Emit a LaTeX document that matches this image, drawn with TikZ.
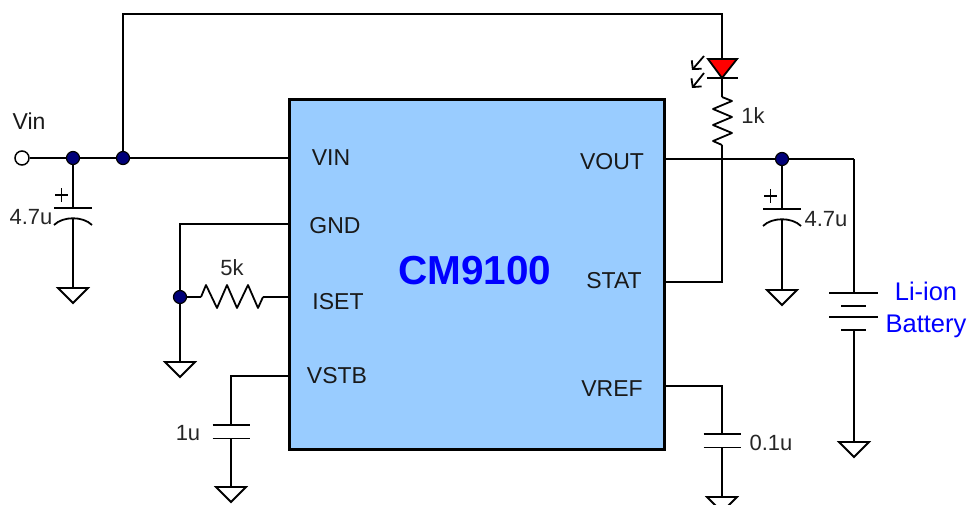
\documentclass[tikz,border=0pt]{standalone}
\usepackage{fontspec}
\setmainfont{Liberation Sans}
\usetikzlibrary{arrows.meta}
\tikzset{
  wire/.style={line width=1.8pt},
  dot/.style={circle,draw=black,line width=1.2pt,fill=black!5!blue!50!black,inner sep=0pt,minimum size=13pt},
  lbl/.style={font=\fontsize{22}{24}\selectfont,text=black!85,inner sep=0pt},
  pinlbl/.style={font=\fontsize{23}{25}\selectfont,text=black!90,inner sep=0pt},
  battlbl/.style={font=\fontsize{25.5}{28}\selectfont,text=blue,inner sep=0pt},
  gnd/.pic={
    \draw[wire] (-15,0) -- (15,0) -- (0,15) -- cycle;
    \coordinate (-in) at (0,0);
  },
  cap/.pic={
    \draw[wire] (-18.5,0) -- (18.5,0) (-18.5,13.5) -- (18.5,13.5);
    \coordinate (-a) at (0,0);
    \coordinate (-b) at (0,13.5);
  },
  polcap/.pic={
    \draw[wire] (-19,0) -- (19,0);
    \draw[wire] (-19,17) .. controls (-10,8) and (10,8) .. (19,17);
    \draw[wire] (-18,-13) -- (-5,-13) (-11.5,-20) -- (-11.5,-6);
    \coordinate (-a) at (0,0);
    \coordinate (-b) at (0,10);
  },
}
\begin{document}
\begin{tikzpicture}[x=1pt,y=-1pt]
\useasboundingbox (0,0) rectangle (969,504);
%%%chip
\node[draw=black,line width=3pt,fill={rgb,255:red,153;green,204;blue,255},
  minimum width=375pt,minimum height=350pt,inner sep=0pt] (chip) at (476.5,274) {};
\node[font=\fontsize{40.5}{42}\selectfont\bfseries,text=blue,inner sep=0pt] (chipname) at (475,271) {CM9100};
\node[pinlbl] (vinlbl) at (331,158) {VIN};
\node[pinlbl] (gndlbl) at (335,226) {GND};
\node[pinlbl] (isetlbl) at (338,302) {ISET};
\node[pinlbl] (vstblbl) at (337,376) {VSTB};
\node[pinlbl] (voutlbl) at (612,162) {VOUT};
\node[pinlbl] (statlbl) at (614,281) {STAT};
\node[pinlbl] (vreflbl) at (612,389) {VREF};

%%%input
\node[circle,draw=black,line width=1.5pt,fill=white,inner sep=0pt,minimum size=14pt] (vin) at (22,158) {};
\node[pinlbl] (vintxt) at (29,121) {Vin};
\node[dot] (j1) at (73,158) {};
\node[dot] (j2) at (123,158) {};
\coordinate (pvin) at (chip.west |- j2);
\draw[wire] (vin) -- (j1);
\draw[wire] (j1) -- (j2);
\draw[wire] (j2) -- (pvin);
\pic (c1) at (73,208) {polcap};
\pic (g1) at (73,288) {gnd};
\draw[wire] (j1) -- (c1-a);
\draw[wire] (c1-b) -- (g1-in);
\node[lbl] (c1txt) at (31,217) {4.7u};

%%%led and status line
\coordinate (t1) at (123,14);
\coordinate (t2) at (722,14);
\coordinate (ledtop) at (722,59);
\coordinate (ledbot) at (722,78);
\coordinate (r1top) at (722,97);
\coordinate (r1bot) at (722,145);
\coordinate (pstat) at (chip.east |- 0,282);
\coordinate (s1) at (722,282);
\draw[wire] (j2) -- (t1) -- (t2) -- (ledtop);
\draw[wire,fill=red] (708,59) -- (737,59) -- (ledbot) -- cycle;
\draw[wire] (707,78) -- (738,78);
\draw[wire,-{Straight Barb[length=6pt,width=13pt]}] (704,56) -- (692,70);
\draw[wire,-{Straight Barb[length=6pt,width=13pt]}] (704,73) -- (692,88);
\draw[wire] (ledbot) -- (r1top);
\draw[wire,line join=round] (r1top) -- (732,101) -- (713,109) -- (732,117) -- (713,125) -- (732,133) -- (713,141) -- (r1bot);
\draw[wire] (r1bot) -- (s1) -- (pstat);
\node[lbl] (r1txt) at (753,116) {1k};

%%%output
\coordinate (pvout) at (chip.east |- 0,159);
\node[dot] (j3) at (782,159) {};
\coordinate (o1) at (854,159);
\draw[wire] (pvout) -- (j3);
\draw[wire] (j3) -- (o1);
\pic (c2) at (782,209) {polcap};
\pic (g2) at (782,290) {gnd};
\draw[wire] (j3) -- (c2-a);
\draw[wire] (c2-b) -- (g2-in);
\node[lbl] (c2txt) at (826,219) {4.7u};

%%%battery
\coordinate (battop) at (854,293);
\coordinate (batbot) at (854,330);
\draw[wire] (829,293) -- (878,293);
\draw[wire] (841,306) -- (866,306);
\draw[wire] (829,317) -- (878,317);
\draw[wire] (841,330) -- (866,330);
\pic (g3) at (854,442) {gnd};
\draw[wire] (o1) -- (battop);
\draw[wire] (batbot) -- (g3-in);
\node[battlbl] (batt1) at (926,291) {Li-ion};
\node[battlbl] (batt2) at (926,326) {Battery};

%%%gnd and iset
\coordinate (pgnd) at (chip.west |- 0,224);
\coordinate (gn1) at (180,224);
\node[dot] (j4) at (180,297) {};
\pic (g4) at (180,362) {gnd};
\draw[wire] (pgnd) -- (gn1) -- (j4);
\draw[wire] (j4) -- (g4-in);
\coordinate (r2l) at (201,297);
\coordinate (r2r) at (263,297);
\coordinate (piset) at (chip.west |- 0,297);
\draw[wire] (j4) -- (r2l);
\draw[wire,line join=round] (r2l) -- (206,285) -- (217,308) -- (227,285) -- (237,308) -- (248,285) -- (258,308) -- (r2r);
\draw[wire] (r2r) -- (piset);
\node[lbl] (r2txt) at (232,268) {5k};

%%%vstb
\coordinate (pvstb) at (chip.west |- 0,376);
\coordinate (v1) at (231,376);
\pic (c3) at (231,425) {cap};
\pic (g5) at (231,487) {gnd};
\draw[wire] (pvstb) -- (v1) -- (c3-a);
\draw[wire] (c3-b) -- (g5-in);
\node[lbl] (c3txt) at (188,433) {1u};

%%%vref
\coordinate (pvref) at (chip.east |- 0,386);
\coordinate (v2) at (722,386);
\pic (c4) at (722,434) {cap};
\pic (g6) at (722,497) {gnd};
\draw[wire] (pvref) -- (v2) -- (c4-a);
\draw[wire] (c4-b) -- (g6-in);
\node[lbl] (c4txt) at (771,443) {0.1u};
\end{tikzpicture}
\end{document}
